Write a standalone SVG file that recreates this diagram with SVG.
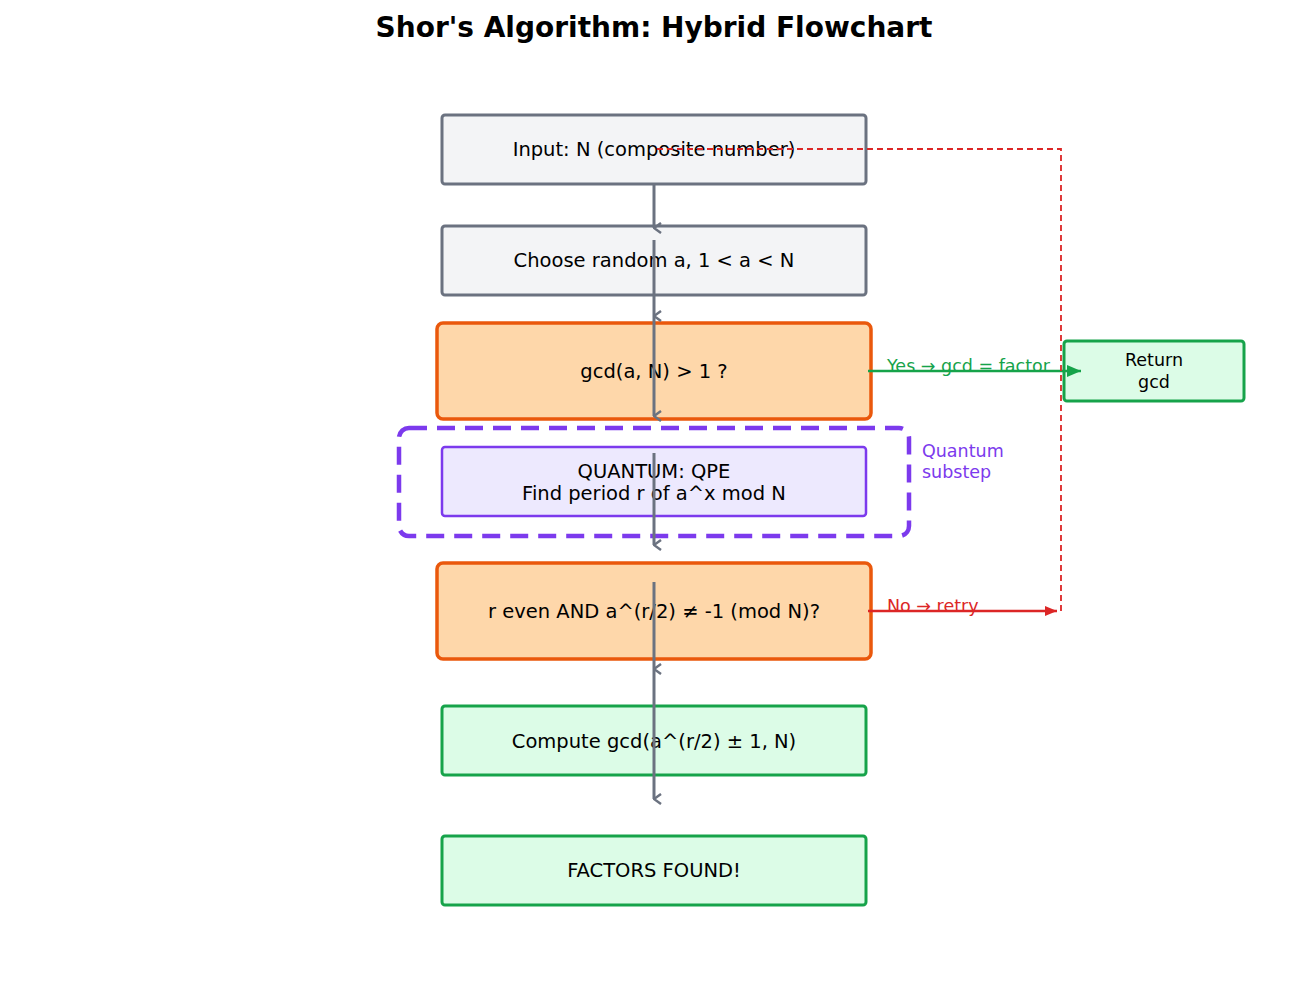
<svg xmlns="http://www.w3.org/2000/svg" width="1308" height="996" viewBox="0 0 1308 996">
<style>
text{font-family:"DejaVu Sans",sans-serif;}
.t{font-size:19.5px;fill:#000;text-anchor:middle;}
.gray{fill:#f3f4f6;stroke:#6b7280;stroke-width:3;}
.dec{fill:#fed7aa;stroke:#ea580c;stroke-width:3.5;}
.grn{fill:#dcfce7;stroke:#16a34a;stroke-width:3;}
.q{fill:#ede9fe;stroke:#7c3aed;stroke-width:2.5;}
.flow{stroke:#6b7280;stroke-width:3;fill:none;marker-end:url(#chev);}
</style>
<defs>
<marker id="chev" viewBox="0 0 12 10" refX="6" refY="9" markerWidth="12" markerHeight="10" markerUnits="userSpaceOnUse" orient="auto-start-reverse">
<path d="M1,2 L6,9 L11,2" fill="none" stroke="#6b7280" stroke-width="2.5"/>
</marker>
<marker id="ag" viewBox="0 0 14 12" refX="14" refY="6" markerWidth="14" markerHeight="12" markerUnits="userSpaceOnUse" orient="auto"><path d="M0,0 L14,6 L0,12z" fill="#16a34a"/></marker>
<marker id="ar" viewBox="0 0 12 10" refX="12" refY="5" markerWidth="12" markerHeight="10" markerUnits="userSpaceOnUse" orient="auto"><path d="M0,0 L12,5 L0,10z" fill="#dc2626"/></marker>
</defs>
<rect width="1308" height="996" fill="#fff"/>
<text x="654" y="37" font-size="28" font-weight="bold" text-anchor="middle">Shor's Algorithm: Hybrid Flowchart</text>
<rect x="399" y="428" width="510" height="108" rx="10" fill="none" stroke="#7c3aed" stroke-width="4.5" stroke-dasharray="18,10"/>
<text x="922" y="457" font-size="17.5" fill="#7c3aed">Quantum</text>
<text x="922" y="478" font-size="17.5" fill="#7c3aed">substep</text>
<g id="n1"><rect class="gray" x="442" y="115" width="424" height="69" rx="3"/><text class="t" x="654" y="156">Input: N (composite number)</text></g>
<g id="n2"><rect class="gray" x="442" y="226" width="424" height="69" rx="3"/><text class="t" x="654" y="267">Choose random a, 1 &lt; a &lt; N</text></g>
<g id="n3"><rect class="dec" x="437" y="323" width="434" height="96" rx="6"/><text class="t" x="654" y="378">gcd(a, N) &gt; 1 ?</text></g>
<g id="n4"><rect class="q" x="442" y="447" width="424" height="69" rx="3"/><text class="t" x="654" y="478">QUANTUM: QPE</text><text class="t" x="654" y="500">Find period r of  a^x mod N</text></g>
<g id="n5"><rect class="dec" x="437" y="563" width="434" height="96" rx="6"/><text class="t" x="654" y="618">r even AND a^(r/2) ≠ -1 (mod N)?</text></g>
<g id="n6"><rect class="grn" x="442" y="706" width="424" height="69" rx="3"/><text class="t" x="654" y="748">Compute gcd(a^(r/2) ± 1, N)</text></g>
<g id="n7"><rect class="grn" x="442" y="836" width="424" height="69" rx="3"/><text class="t" x="654" y="877">FACTORS FOUND!</text></g>
<g id="n8"><rect class="grn" x="1064" y="341" width="180" height="60" rx="3"/><text x="1154" y="366" font-size="17.5" text-anchor="middle">Return</text><text x="1154" y="388" font-size="17.5" text-anchor="middle">gcd</text></g>
<g id="connectors">
<path class="flow" d="M654,184 V228"/>
<path class="flow" d="M654,240 V316"/>
<path class="flow" d="M654,316 V416"/>
<path class="flow" d="M654,453 V545"/>
<path class="flow" d="M654,582 V669"/>
<path class="flow" d="M654,669 V799"/>
<path d="M868,371 H1081" stroke="#16a34a" stroke-width="2.5" marker-end="url(#ag)"/>
<text x="887" y="372" font-size="17.5" fill="#16a34a">Yes → gcd = factor</text>
<path d="M868,611 H1057" stroke="#dc2626" stroke-width="2.5" marker-end="url(#ar)"/>
<text x="887" y="612" font-size="17.5" fill="#dc2626">No → retry</text>
<path d="M1061,611 V149 H654" fill="none" stroke="#dc2626" stroke-width="1.8" stroke-dasharray="6,4"/>
</g>
</svg>
